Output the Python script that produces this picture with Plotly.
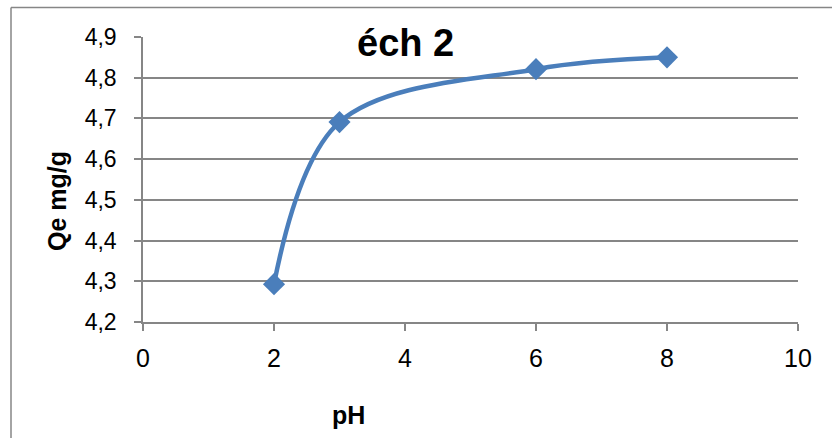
import plotly.graph_objects as go

# pH values and adsorbed quantity Qe (mg/g) for sample 2
ph = [2, 3, 6, 8]
qe = [4.293, 4.691, 4.821, 4.850]

x_ticks = [0, 2, 4, 6, 8, 10]
y_ticks = [4.2, 4.3, 4.4, 4.5, 4.6, 4.7, 4.8, 4.9]

W, H = 832, 438
L, R, T, B = 143, 34, 37, 116
pw, ph_px = W - L - R, H - T - B

def px_x(p):
    return (p - L) / pw

def px_y(p):
    return 1 - (p - T) / ph_px

BLUE = "#4a7ebb"
GRID = "#868686"
FONT = "Liberation Sans, Arial, sans-serif"

fig = go.Figure(
    go.Scatter(
        x=ph, y=qe, mode="lines+markers",
        line=dict(color=BLUE, width=4.5, shape="spline", smoothing=1),
        marker=dict(symbol="diamond", size=17, color=BLUE),
        showlegend=False,
    )
)

fig.update_layout(
    width=W, height=H,
    margin=dict(l=L, r=R, t=T, b=B),
    paper_bgcolor="white", plot_bgcolor="white",
    separators=", ",
    font=dict(family=FONT, color="black"),
    xaxis=dict(
        range=[0, 10], tickvals=x_ticks, showgrid=False, zeroline=False,
        showline=True, linecolor=GRID, linewidth=1.5,
        ticks="outside", ticklen=7, tickcolor=GRID, tickwidth=1.5,
        ticklabelstandoff=6,
        tickfont=dict(size=25, family=FONT), fixedrange=True,
    ),
    yaxis=dict(
        range=[4.2, 4.9], tickvals=y_ticks, tickformat=".1f",
        showgrid=True, gridcolor=GRID, gridwidth=1.5, zeroline=False,
        showline=True, linecolor=GRID, linewidth=1.5,
        ticks="outside", ticklen=7, tickcolor=GRID, tickwidth=1.5,
        ticklabelstandoff=13,
        tickfont=dict(size=23, family=FONT), fixedrange=True,
    ),
    shapes=[
        dict(type="line", xref="paper", yref="paper",
             x0=px_x(11), x1=px_x(840), y0=px_y(7.5), y1=px_y(7.5),
             line=dict(color=GRID, width=1.5)),
        dict(type="line", xref="paper", yref="paper",
             x0=px_x(11), x1=px_x(11), y0=px_y(7.5), y1=px_y(450),
             line=dict(color=GRID, width=1.5)),
    ],
    annotations=[
        dict(text="<b>éch 2</b>", xref="paper", yref="paper",
             x=px_x(405), y=px_y(43), xanchor="center", yanchor="middle",
             showarrow=False, font=dict(size=38, family=FONT)),
        dict(text="<b>pH</b>", xref="paper", yref="paper",
             x=px_x(348), y=px_y(415), xanchor="center", yanchor="middle",
             showarrow=False, font=dict(size=25, family=FONT)),
        dict(text="<b>Qe mg/g</b>", xref="paper", yref="paper",
             x=px_x(57), y=px_y(201), xanchor="center", yanchor="middle",
             textangle=-90, showarrow=False, font=dict(size=25, family=FONT)),
    ],
)

fig.write_html("out.html")
